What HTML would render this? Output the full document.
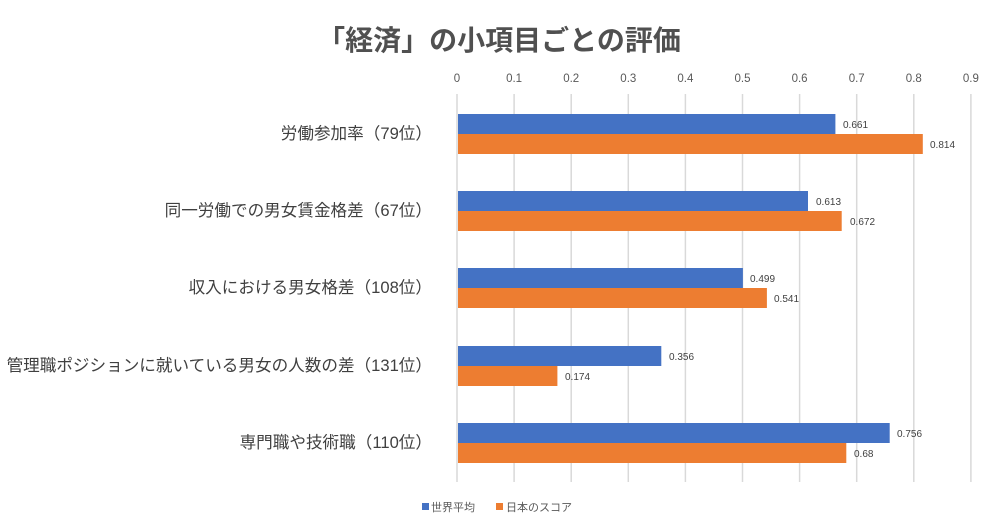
<!DOCTYPE html>
<html><head><meta charset="utf-8"><style>
html,body{margin:0;padding:0;background:#fff;}
svg{display:block;font-family:"Liberation Sans","Noto Sans CJK JP",sans-serif;}
</style></head><body>
<svg width="998" height="528" viewBox="0 0 998 528" xmlns="http://www.w3.org/2000/svg">
<rect width="998" height="528" fill="#fff"/>
<text x="499" y="50" text-anchor="middle" font-size="28" font-weight="bold" fill="#505050">「経済」の小項目ごとの評価</text>
<g stroke="#d9d9d9" stroke-width="1.5">
<line x1="457" y1="94" x2="457" y2="482"/>
<line x1="514.1" y1="94" x2="514.1" y2="482"/>
<line x1="571.2" y1="94" x2="571.2" y2="482"/>
<line x1="628.3" y1="94" x2="628.3" y2="482"/>
<line x1="685.4" y1="94" x2="685.4" y2="482"/>
<line x1="742.5" y1="94" x2="742.5" y2="482"/>
<line x1="799.6" y1="94" x2="799.6" y2="482"/>
<line x1="856.7" y1="94" x2="856.7" y2="482"/>
<line x1="913.8" y1="94" x2="913.8" y2="482"/>
<line x1="970.9" y1="94" x2="970.9" y2="482"/>
</g>
<g font-size="11.5" fill="#595959" text-anchor="middle">
<text x="457" y="82">0</text><text x="514.1" y="82">0.1</text><text x="571.2" y="82">0.2</text><text x="628.3" y="82">0.3</text><text x="685.4" y="82">0.4</text><text x="742.5" y="82">0.5</text><text x="799.6" y="82">0.6</text><text x="856.7" y="82">0.7</text><text x="913.8" y="82">0.8</text><text x="970.9" y="82">0.9</text>
</g>
<g>
<rect x="458" y="114" width="377.4" height="20" fill="#4472c4"/>
<rect x="458" y="134" width="464.8" height="20" fill="#ed7d31"/>
<rect x="458" y="191" width="350.0" height="20" fill="#4472c4"/>
<rect x="458" y="211" width="383.7" height="20" fill="#ed7d31"/>
<rect x="458" y="268" width="284.9" height="20" fill="#4472c4"/>
<rect x="458" y="288" width="308.9" height="20" fill="#ed7d31"/>
<rect x="458" y="346" width="203.3" height="20" fill="#4472c4"/>
<rect x="458" y="366" width="99.4" height="20" fill="#ed7d31"/>
<rect x="458" y="423" width="431.7" height="20" fill="#4472c4"/>
<rect x="458" y="443" width="388.3" height="20" fill="#ed7d31"/>
</g>
<g font-size="10" fill="#404040">
<text x="843" y="128">0.661</text><text x="930" y="148">0.814</text>
<text x="816" y="205">0.613</text><text x="850" y="225">0.672</text>
<text x="750" y="282">0.499</text><text x="774" y="302">0.541</text>
<text x="669" y="360">0.356</text><text x="565" y="380">0.174</text>
<text x="897" y="437">0.756</text><text x="854" y="457">0.68</text>
</g>
<g font-size="16.6" fill="#404040" text-anchor="end">
<text x="432" y="139">労働参加率（79位）</text>
<text x="432" y="216">同一労働での男女賃金格差（67位）</text>
<text x="432" y="293">収入における男女格差（108位）</text>
<text x="432" y="371">管理職ポジションに就いている男女の人数の差（131位）</text>
<text x="432" y="448">専門職や技術職（110位）</text>
</g>
<rect x="422" y="503" width="7" height="7" fill="#4472c4"/>
<text x="431" y="511" font-size="11" fill="#595959">世界平均</text>
<rect x="496" y="503" width="7" height="7" fill="#ed7d31"/>
<text x="506" y="511" font-size="11" fill="#595959">日本のスコア</text>
</svg>
</body></html>
